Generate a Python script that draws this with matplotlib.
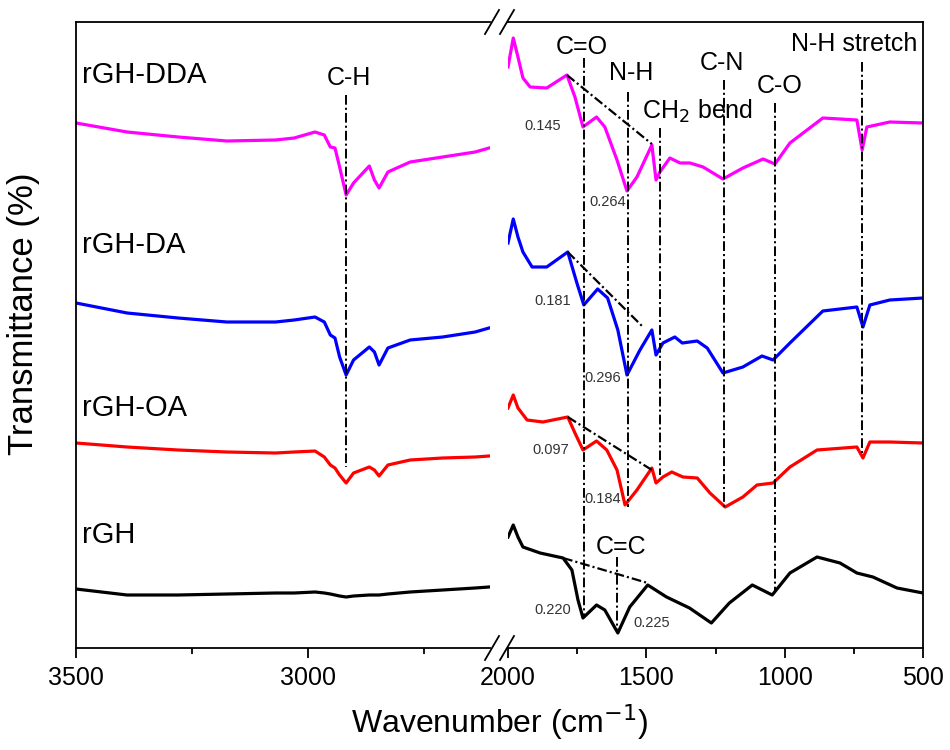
#!/usr/bin/env python3
"""
FTIR spectra of rGH and the amine-functionalised samples (OA, DA, DDA),
drawn on a broken wavenumber axis like the Origin original.
"""

import matplotlib
matplotlib.use("Agg")
from matplotlib import pyplot as plt
from matplotlib.lines import Line2D
from matplotlib.ticker import FixedLocator

plt.rcParams["font.family"] = ["Liberation Sans", "DejaVu Sans"]
plt.rcParams["lines.scale_dashes"] = False

# ---- data (transmittance, arbitrary units with vertical offsets) ----
names = ["rGH", "rGH-OA", "rGH-DA", "rGH-DDA"]
colors = ["black", "#ff0000", "#0000ff", "#ff00ff"]

# high wavenumber segment, shared grid
wn_high = [3500, 3390, 3280, 3175, 3070, 3030, 2985, 2965, 2952, 2942, 2932,
           2918, 2902, 2868, 2857, 2847, 2828, 2780, 2710, 2640, 2610]
t_high_rgh = [59, 53, 53, 54, 55, 55, 56, 55, 54, 53, 52,
              51, 52, 53, 53, 53, 54, 56, 58, 60, 61]
t_high_oa = [205, 201, 198, 196, 195, 196, 197, 191, 183, 180, 173,
             165, 175, 181, 178, 172, 183, 188, 190, 191, 192]
t_high_da = [345, 335, 330, 326, 326, 328, 331, 326, 313, 310, 291,
             273, 288, 301, 296, 283, 300, 308, 311, 316, 320]
t_high_dda = [525, 516, 511, 507, 508, 510, 516, 513, 501, 500, 481,
              453, 465, 482, 468, 460, 476, 486, 491, 496, 500]

# fingerprint segment, one grid per sample
wn_low_rgh = [2000, 1981, 1964, 1946, 1884, 1801, 1769, 1747, 1729, 1680, 1650,
              1603, 1560, 1495, 1427, 1344, 1265, 1200, 1117, 1045, 981, 883,
              800, 739, 681, 594, 500]
t_low_rgh = [111, 123, 111, 101, 95, 90, 78, 48, 30, 43, 38,
             15, 41, 63, 51, 40, 25, 45, 63, 53, 75, 91,
             85, 75, 71, 60, 55]

wn_low_oa = [2000, 1981, 1964, 1931, 1874, 1784, 1758, 1729, 1680, 1643, 1606,
             1577, 1534, 1480, 1465, 1440, 1408, 1368, 1316, 1270, 1215, 1151,
             1100, 1042, 981, 883, 739, 717, 692, 620, 500]
t_low_oa = [240, 253, 240, 228, 226, 231, 215, 198, 207, 198, 178,
            143, 158, 180, 165, 171, 176, 171, 170, 155, 141, 151,
            163, 165, 181, 198, 201, 190, 206, 206, 205]

wn_low_da = [2000, 1981, 1964, 1946, 1913, 1860, 1784, 1751, 1726, 1676, 1640,
             1603, 1570, 1523, 1480, 1465, 1440, 1397, 1370, 1316, 1280, 1223,
             1151, 1082, 1042, 981, 862, 739, 717, 692, 620, 500]
t_low_da = [405, 429, 411, 396, 381, 381, 396, 365, 343, 359, 350,
            318, 273, 298, 318, 293, 305, 311, 305, 307, 300, 275,
            281, 292, 288, 305, 337, 341, 321, 343, 348, 350]

wn_low_dda = [2000, 1981, 1964, 1946, 1920, 1860, 1787, 1758, 1729, 1680, 1650,
              1606, 1570, 1534, 1480, 1465, 1451, 1415, 1378, 1342, 1295, 1223,
              1151, 1078, 1035, 981, 862, 739, 720, 703, 620, 500]
t_low_dda = [581, 610, 591, 570, 561, 560, 573, 551, 521, 531, 521,
             488, 457, 471, 503, 468, 476, 490, 485, 485, 481, 469,
             480, 489, 484, 505, 530, 528, 498, 521, 526, 525]

high = [t_high_rgh, t_high_oa, t_high_da, t_high_dda]
low = [(wn_low_rgh, t_low_rgh), (wn_low_oa, t_low_oa),
       (wn_low_da, t_low_da), (wn_low_dda, t_low_dda)]

# band assignments: wavenumber, top and bottom of the marker line
band_names = ["C=O", "N-H", "CH$_2$ bend", "C-N", "C-O", "N-H stretch", "C=C"]
band_wn = [1727, 1568, 1451, 1221, 1035, 720, 1605]
band_top = [590, 556, 520, 568, 545, 586, 91]
band_bottom = [31, 141, 173, 141, 55, 195, 18]

ch_wn, ch_top, ch_bottom = 2918, 553, 181

# baselines drawn across the C=O / N-H region
base_start = [(1801, 90), (1784, 231), (1784, 396), (1787, 573)]
base_end = [(1495, 65), (1480, 178), (1512, 321), (1480, 504)]

# peak ratios
ratio_labels = ["0.145", "0.264", "0.181", "0.296", "0.097", "0.184", "0.220", "0.225"]

DASHDOT = (0, (7, 2.2, 1.5, 2.2))

fig = plt.figure(figsize=(9.5, 7.5), dpi=100)
ax1 = fig.add_axes([76 / 950, 102 / 750, 414 / 950, 626 / 750])
ax2 = fig.add_axes([508 / 950, 102 / 750, 415 / 950, 626 / 750])

for col, t in zip(colors, high):
    ax1.plot(wn_high, t, color=col, lw=2.3, solid_joinstyle="round")
for col, (w, t) in zip(colors, low):
    ax2.plot(w, t, color=col, lw=2.3, solid_joinstyle="round")

ax1.set_xlim(3500, 2608)
ax2.set_xlim(2000, 500)
for ax in (ax1, ax2):
    ax.set_ylim(0, 626)
    ax.set_yticks([])
    for s in ax.spines.values():
        s.set_linewidth(1.3)
    ax.tick_params(axis="x", which="major", direction="out", length=7, width=1.3,
                   labelsize=18, pad=6)
    ax.tick_params(axis="x", which="minor", direction="out", length=4, width=1.3)
ax1.spines["right"].set_visible(False)
ax2.spines["left"].set_visible(False)

ax1.xaxis.set_major_locator(FixedLocator([3500, 3000]))
ax1.xaxis.set_minor_locator(FixedLocator([3250, 2750]))
ax2.xaxis.set_major_locator(FixedLocator([2000, 1500, 1000, 500]))
ax2.xaxis.set_minor_locator(FixedLocator([1750, 1250, 750]))

# C-H marker on the high segment
ax1.plot([ch_wn, ch_wn], [ch_top, ch_bottom], color="black", lw=1.4, linestyle=DASHDOT)
ax1.text(2912, 570, "C-H", fontsize=18, ha="center", va="center")

# sample names
for name, y in zip(names, [113, 240, 403, 573]):
    ax1.text(3487, y, name, fontsize=21, ha="left", va="center")

# band markers
for w, top, bot in zip(band_wn, band_top, band_bottom):
    ax2.plot([w, w], [top, bot], color="black", lw=1.4, linestyle=DASHDOT)
for (x0, y0), (x1, y1) in zip(base_start, base_end):
    ax2.plot([x0, x1], [y0, y1], color="black", lw=1.6, linestyle=DASHDOT)

band_pos = [(1733, 601, "center"), (1555, 575, "center"), (1516, 537, "left"),
            (1227, 585, "center"), (1017, 562, "center"), (750, 604, "center"),
            (1592, 101, "center")]
for label, (x, y, ha) in zip(band_names, band_pos):
    ax2.text(x, y, label, fontsize=18, ha=ha, va="center")

ratio_pos = [(1874, 522), (1639, 446), (1837, 347), (1657, 270),
             (1845, 198), (1657, 149), (1837, 38), (1480, 25)]
for label, (x, y) in zip(ratio_labels, ratio_pos):
    ax2.text(x, y, label, fontsize=10.5, color="#333333", ha="center", va="center")

# axis break marks
for yb in (22, 648):
    for xs in (485, 500):
        fig.add_artist(Line2D([xs / 950, (xs + 14) / 950],
                              [1 - (yb + 12) / 750, 1 - (yb - 12) / 750],
                              color="black", lw=1.3))

fig.text(500 / 950, 1 - 722 / 750, "Wavenumber (cm$^{-1}$)", fontsize=23,
         ha="center", va="center")
fig.text(24 / 950, 1 - 314 / 750, "Transmittance (%)", fontsize=25,
         rotation=90, ha="center", va="center")

fig.savefig("out.png", dpi=100)
